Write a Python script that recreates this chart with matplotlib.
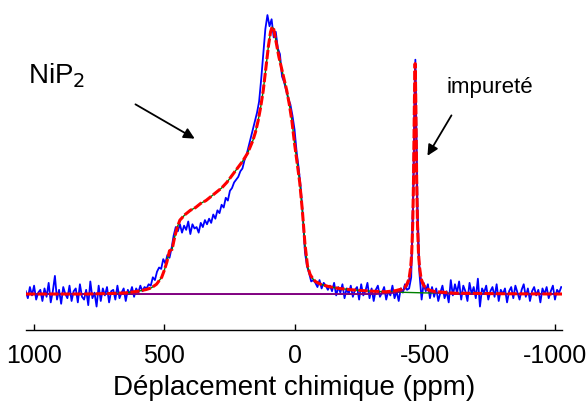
import numpy as np
import matplotlib
matplotlib.use("Agg")
import matplotlib.pyplot as plt

plt.rcParams['font.family'] = ['Liberation Sans', 'DejaVu Sans']

# experimental spectrum (blue), intensity in 1/1000 of the main maximum, 8 ppm step
blue_left = [10, -15, 25, -5, 30, -20, 5, 15, -25, 20,
             -10, 40, -30, 10, 65, -20, 15, -35, 25, 0,
             -15, 30, -25, 10, 20, -30, 35, -10, -20, 15,
             -40, 45, -15, 5, -45, 30, -25, 20, -5, 25,
             -30, 10, 15, -20, 30, -15, 5, 20, -25, 15,
             0, 25, -10, 20, 5, 30, 10, 25]            # 1032 .. 576 ppm
blue_main = [20, 35, 30, 60, 50, 80, 95, 90, 125, 110,
             140, 130, 165, 210, 240, 225, 250, 220, 245, 230,
             260, 215, 250, 235, 240, 220, 255, 240, 265, 250,
             270, 255, 285, 270, 300, 290, 320, 310, 345, 335,
             370, 380, 400, 410, 420, 440, 450, 480, 500, 530,
             560, 590, 620, 650, 690, 770, 860, 950, 1000, 960,
             985, 920, 940, 880, 860, 780, 760, 730, 700, 680,
             640, 590, 510, 450, 380, 280, 150, 100, 75, 45,
             50, 40, 25, 50, 20, 40, 30, 15]              # 568 .. -128 ppm
blue_right = [30, 10, 40, -5, 25, 5, 35, -15, 20, 0,
              30, -10, 15, 25, -20, 35, -5, 10, 40, -15,
              20, -25, 15, 30, -10, 5, 25, -20, 10, -5,
              30, -15, 10, -25, 20, 5, 35, 15, 20, 60,
              380, 840, 320, 70, -20, 40, 10, 35, -15, 25,
              -10, 20, -25, 5, 30, -15, 10, -30, 50, -5,
              35, 5, 45, -20, 30, 10, -25, 40, 0, 25,
              -15, 55, -45, 20, 5, 30, -20, 10, 25, -10,
              35, -25, 15, 0, 20, -30, 10, 25, -15, 30,
              5, -20, 15, 35, -10, 20, -25, 10, 25, -5,
              15, -30, 20, 0, 25, -15, 10, 30, -20, 15,
              5, 25]                                      # -136 .. -1024 ppm

# fitted components
fit_ppm = [1031, 800, 700, 650, 600, 570, 550, 530, 510, 500,
           490, 480, 470, 460, 450, 440, 420, 400, 380, 360,
           340, 320, 300, 280, 260, 240, 220, 200, 180, 160,
           150, 140, 130, 120, 110, 100, 92, 86, 80, 72,
           60, 50, 40, 30, 20, 10, 0, -10, -20, -30,
           -40, -50, -60, -70, -80, -100, -130, -170, -220, -280,
           -350, -420, -500, -600, -800, -1027]
nip2 = [0, 0, 0.002, 0.004, 0.010, 0.016, 0.022, 0.035, 0.060, 0.085,
        0.115, 0.155, 0.16, 0.205, 0.24, 0.265, 0.285, 0.30, 0.31, 0.325,
        0.335, 0.35, 0.365, 0.38, 0.40, 0.425, 0.45, 0.475, 0.505, 0.55,
        0.58, 0.62, 0.67, 0.73, 0.81, 0.89, 0.94, 0.957, 0.95, 0.91,
        0.85, 0.81, 0.77, 0.73, 0.68, 0.62, 0.54, 0.47, 0.40, 0.30,
        0.18, 0.10, 0.07, 0.055, 0.045, 0.035, 0.027, 0.02, 0.015, 0.011,
        0.008, 0.006, 0.004, 0.003, 0.001, 0]

imp_ppm = [1031, -313, -388, -408, -423, -432, -440, -446, -450, -454,
           -457, -460, -462, -463, -464, -466, -469, -472, -476, -480,
           -486, -494, -503, -518, -538, -613, -1027]
imp = [0, 0, 0.005, 0.01, 0.018, 0.03, 0.05, 0.09, 0.14, 0.25,
       0.41, 0.66, 0.79, 0.82, 0.79, 0.66, 0.41, 0.25, 0.14, 0.09,
       0.05, 0.03, 0.018, 0.01, 0.005, 0, 0]

# total fit (red)
total_ppm = fit_ppm[:60] + [-350, -388, -408, -423, -432, -440, -446, -450, -454,
                            -457, -460, -462, -463, -464, -466, -469, -472, -476, -480,
                            -486, -494, -503, -518, -538, -613, -800, -1027]
total = nip2[:60] + [0.008, 0.012, 0.017, 0.024, 0.036, 0.056, 0.096, 0.146, 0.256,
                     0.416, 0.666, 0.796, 0.826, 0.796, 0.666, 0.416, 0.256, 0.146, 0.096,
                     0.055, 0.035, 0.022, 0.014, 0.009, 0.003, 0.001, 0]

blue_int = np.array(blue_left + blue_main + blue_right) / 1000.0
blue_ppm = 1032 - 8 * np.arange(len(blue_int))

fig = plt.figure(figsize=(5.88, 4.05), dpi=100)
ax = fig.add_axes([26 / 588, 75 / 405, 536 / 588, 330 / 405])

ax.plot(blue_ppm, blue_int, color='#0000ff', lw=1.3, zorder=1)
ax.plot(fit_ppm, nip2, color='#008000', lw=1.0, zorder=2)
ax.plot(imp_ppm, imp, color='#800080', lw=1.4, zorder=3)
ax.plot(total_ppm, total, color='#ff0000', lw=2.2, dashes=(3, 0.8), zorder=4)

ax.set_xlim(1031, -1027)
ax.set_ylim(-0.129, 1.054)

for s in ['left', 'right', 'top']:
    ax.spines[s].set_visible(False)
ax.spines['bottom'].set_linewidth(1.0)
ax.set_yticks([])
ax.set_xticks([1000, 500, 0, -500, -1000])
ax.set_xticklabels(['1000', '500', '0', '-500', '-1000'])
ax.tick_params(axis='x', direction='in', length=4, width=1, labelsize=18, pad=10)
ax.set_xlabel('Déplacement chimique (ppm)', fontsize=20, labelpad=5)

ax.text(1023, 0.756, 'NiP$_2$', fontsize=20, ha='left', va='baseline')
ax.annotate('', xy=(374, 0.552), xytext=(620, 0.685),
            arrowprops=dict(arrowstyle='-|>', color='k', lw=1.3, mutation_scale=16))
ax.text(-585, 0.72, 'impureté', fontsize=16, ha='left', va='baseline')
ax.annotate('', xy=(-505, 0.487), xytext=(-608, 0.649),
            arrowprops=dict(arrowstyle='-|>', color='k', lw=1.3, mutation_scale=16))

fig.savefig('out.png', dpi=100)
